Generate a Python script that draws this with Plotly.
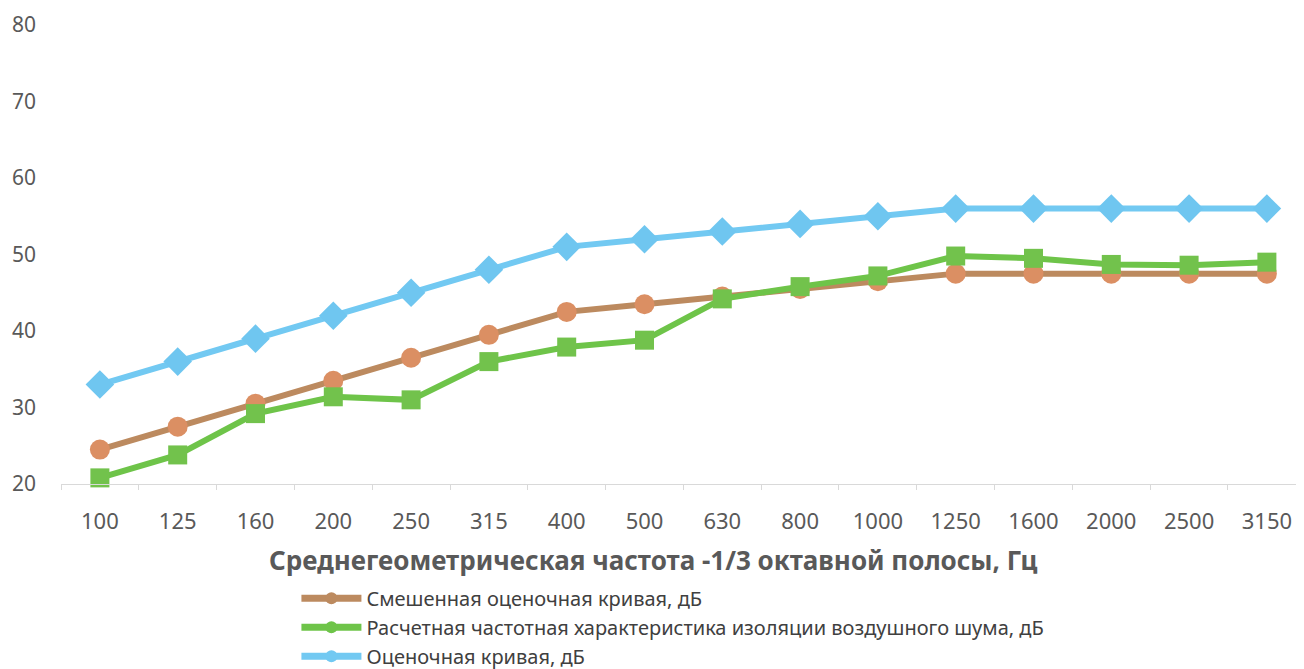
import plotly.graph_objects as go

freqs = ["100", "125", "160", "200", "250", "315", "400", "500", "630", "800",
         "1000", "1250", "1600", "2000", "2500", "3150"]
shifted = [24.5, 27.5, 30.5, 33.5, 36.5, 39.5, 42.5, 43.5, 44.5, 45.5, 46.5, 47.5, 47.5, 47.5, 47.5, 47.5]
calculated = [20.8, 23.8, 29.2, 31.4, 31.0, 36.0, 37.9, 38.8, 44.2, 45.8, 47.2, 49.8, 49.5, 48.7, 48.6, 49.0]
reference = [33, 36, 39, 42, 45, 48, 51, 52, 53, 54, 55, 56, 56, 56, 56, 56]

names = ["Смешенная оценочная кривая, дБ",
         "Расчетная частотная характеристика изоляции воздушного шума, дБ",
         "Оценочная кривая, дБ"]
x_title = "Среднегеометрическая частота -1/3 октавной полосы, Гц"

series = [
    (shifted, names[0], "#BC8A5F", "circle", 20, "#DB8F63"),
    (calculated, names[1], "#6EC449", "square", 19, "#72C24C"),
    (reference, names[2], "#72C9F2", "diamond", 22, "#6FC6F0"),
]

fig = go.Figure()
for vals, name, lc, sym, sz, mc in series:
    fig.add_trace(go.Scatter(x=freqs, y=vals, name=name, mode="lines+markers",
                             line=dict(color=lc, width=6), showlegend=False,
                             marker=dict(symbol=sym, size=sz, color=mc),
                             cliponaxis=False))
# legend entries (small marker bump as in the original legend)
for vals, name, lc, sym, sz, mc in series:
    fig.add_trace(go.Scatter(x=[None], y=[None], name=name, mode="lines+markers",
                             line=dict(color=lc, width=7),
                             marker=dict(symbol="circle", size=12, color=lc)))

fig.update_layout(
    width=1296, height=690,
    margin=dict(l=53, r=0, t=17, b=214),
    paper_bgcolor="white", plot_bgcolor="white",
    font=dict(family="Noto Sans", color="#595959"),
    showlegend=True,
    legend=dict(orientation="v", x=0.1894, xanchor="left", y=-0.2066, yanchor="top",
                font=dict(size=20, color="#404040"), tracegroupgap=0,
                itemwidth=60, bgcolor="rgba(0,0,0,0)"),
    xaxis=dict(type="category", range=[-0.5, 15.477], showgrid=False,
               showline=True, linecolor="#D9D9D9", linewidth=1,
               ticks="outside", tickson="boundaries", ticklen=5, tickcolor="#D9D9D9",
               tickfont=dict(size=22, color="#595959"), ticklabelstandoff=18),
    yaxis=dict(range=[20, 80], dtick=10, showgrid=False, zeroline=False, showline=False,
               tickfont=dict(size=21, color="#595959"), ticklabelstandoff=24),
    annotations=[dict(text="<b>" + x_title + "</b>", xref="paper", yref="paper",
                      x=0.4763, y=-0.1656, xanchor="center", yanchor="middle",
                      showarrow=False, font=dict(size=26, color="#595959"))],
)

fig.write_html("out.html")
